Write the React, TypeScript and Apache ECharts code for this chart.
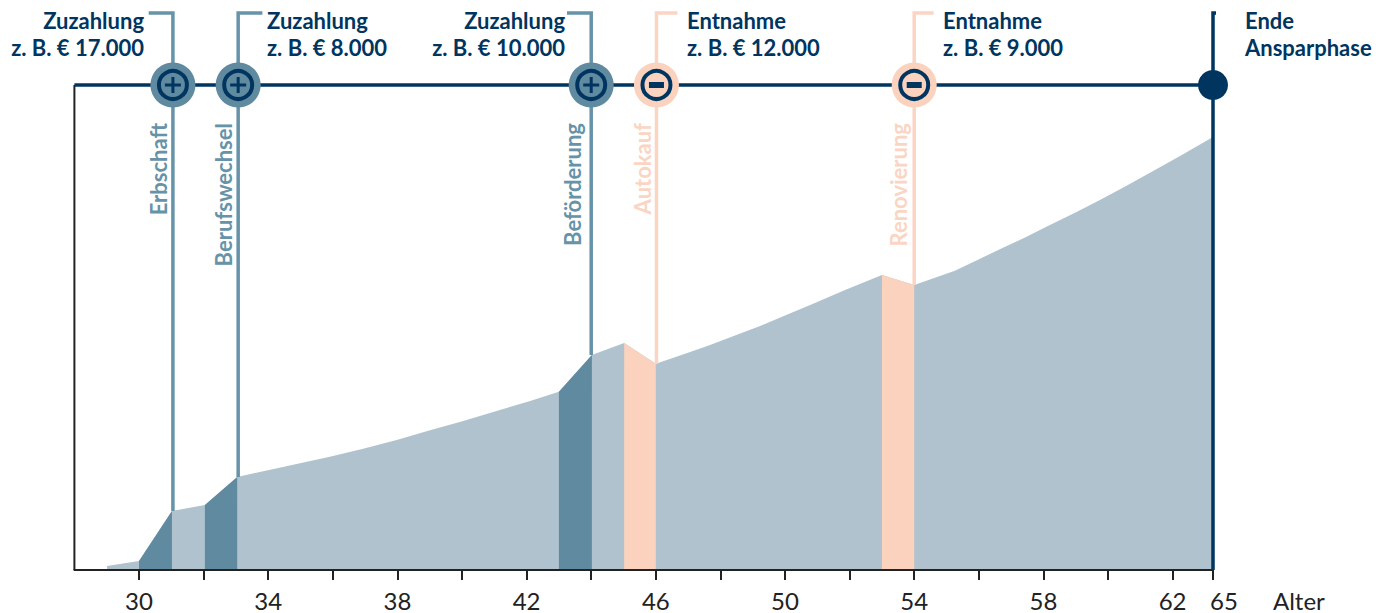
import React, { useEffect, useRef } from "react";
import * as echarts from "echarts";

const FONT = "Lato";
const NAVY = "#003560";
const BLUE = "#5F8AA0";
const BLUE_LINE = "#6693A8";
const BASE = "#AFC2CE";
const PEACH = "#FBD2BE";
const PEACH_LINE = "#FBD5C3";
const INK = "#222222";

// axis position of the age 65 tick (the axis is compressed after 62)
const END_POS = 63.25;
const tickPositions = [30, 32, 34, 36, 38, 40, 42, 44, 46, 48, 50, 52, 54, 56, 58, 60, 62, END_POS];
const labelPositions = [30, 34, 38, 42, 46, 50, 54, 58, 62, END_POS];

const balanceAges = [29.01, 30, 31.02, 32.04, 33.04, 33.85, 34.88, 35.91, 36.94, 37.98, 39.01, 40.04, 41.07, 42.11, 43, 44.02, 44.58, 45.02, 46, 46.84, 47.68, 48.45, 49.23, 50, 50.78, 51.86, 53, 54, 55.26, 56.65, 57.43, 58.2, 58.98, 59.75, 60.53, 61.3, 62.23, 63.25];
const balanceValues = [4, 9, 59, 65, 93, 98.8, 106, 113.3, 121.3, 130, 139.7, 149, 159, 169, 178.3, 215, 221.7, 227, 206.3, 215.5, 225, 234.5, 244, 254.5, 265, 280, 295, 285, 299.3, 320.7, 332.5, 345, 357.3, 370, 383.5, 397.3, 414, 433];

const depositSegments: number[][][] = [
  [[30, 9], [31.02, 59]],
  [[32.04, 65], [33.04, 93]],
  [[43, 178.3], [44.02, 215]],
];
const withdrawalSegments: number[][][] = [
  [[45.02, 227], [46, 206.3]],
  [[53, 295], [54, 285]],
];

const TIMELINE = 485;
const HOOK = 557;

const eventAges = [31.05, 33.07, 44, 46.02, 54];
const eventBase = [59, 93, 215, 206.3, 285];
const eventKinds = ["plus", "plus", "plus", "minus", "minus"];
const eventHook = [-0.75, 0.75, -0.75, 0.65, 0.6];
const eventNames = ["Erbschaft", "Berufswechsel", "Beförderung", "Autokauf", "Renovierung"];
const eventTitles = ["Zuzahlung", "Zuzahlung", "Zuzahlung", "Entnahme", "Entnahme"];
const eventAmounts = ["z. B. € 17.000", "z. B. € 8.000", "z. B. € 10.000", "z. B. € 12.000", "z. B. € 9.000"];
const headX = [144, 267, 565, 687, 943];
const nameX = [158, 223, 572, 642, 898];

const PLUS = "path://M6.5 0h3v6.5h6.5v3h-6.5v6.5h-3v-6.5h-6.5v-3h6.5z";

function lineSeries(data: number[][], color: string, width = 3.5, z = 5) {
  return {
    type: "line", data, showSymbol: false, symbol: "none", clip: false, silent: true, z,
    lineStyle: { color, width, cap: "butt", join: "miter" },
  };
}
function areaSeries(data: number[][], color: string, z: number) {
  return {
    type: "line", data, showSymbol: false, symbol: "none", silent: true, z,
    lineStyle: { width: 0 }, areaStyle: { color, opacity: 1 },
  };
}

export default function App() {
  const ref = useRef<HTMLDivElement>(null);
  useEffect(() => {
    const chart = echarts.init(ref.current!, undefined, { renderer: "svg" });
    const base = balanceAges.map((a, i) => [a, balanceValues[i]]);
    const blue = (i: number) => eventKinds[i] === "plus";
    const series: any[] = [
      areaSeries(base, BASE, 2),
      ...depositSegments.map((s) => areaSeries(s, BLUE, 3)),
      ...withdrawalSegments.map((s) => areaSeries(s, PEACH, 3)),
      lineSeries([[28, 0], [28, TIMELINE]], INK, 2, 4),
      lineSeries([[28, TIMELINE], [END_POS, TIMELINE]], NAVY, 3.5, 5),
      ...eventAges.map((a, i) =>
        lineSeries([[a, eventBase[i]], [a, HOOK], [a + eventHook[i], HOOK]], blue(i) ? BLUE_LINE : PEACH_LINE, 3.5, 5)
      ),
      lineSeries([[END_POS, 0], [END_POS, HOOK], [END_POS + 0.62, HOOK]], NAVY, 3.5, 6),
      {
        type: "scatter", silent: true, z: 7, clip: false, symbol: "circle", symbolSize: 45,
        data: eventAges.map((a, i) => ({ value: [a, TIMELINE], itemStyle: { color: blue(i) ? BLUE : PEACH, opacity: 1 } })),
      },
      {
        type: "scatter", silent: true, z: 8, clip: false, symbol: "circle", symbolSize: 28,
        itemStyle: { color: "rgba(0,0,0,0)", borderColor: NAVY, borderWidth: 4, opacity: 1 },
        data: eventAges.map((a) => [a, TIMELINE]),
      },
      {
        type: "scatter", silent: true, z: 9, clip: false, symbol: PLUS, symbolSize: 16,
        itemStyle: { color: NAVY, opacity: 1 },
        data: eventAges.filter((_, i) => blue(i)).map((a) => [a, TIMELINE]),
      },
      {
        type: "scatter", silent: true, z: 9, clip: false, symbol: "rect", symbolSize: [15, 6],
        itemStyle: { color: NAVY, opacity: 1 },
        data: eventAges.filter((_, i) => !blue(i)).map((a) => [a, TIMELINE]),
      },
      {
        type: "scatter", silent: true, z: 9, clip: false, symbol: "circle", symbolSize: 30,
        itemStyle: { color: NAVY, opacity: 1 },
        data: [[END_POS, TIMELINE]],
      },
    ];
    const head = (text: string, x: number, align: string) => ({
      type: "text", x, y: 34, z: 20,
      style: { text, fill: NAVY, font: `700 22px ${FONT}`, align, verticalAlign: "middle", lineHeight: 27 },
    });
    const graphic: any[] = [
      ...eventNames.map((n, i) => ({
        type: "text", x: nameX[i], y: 123, rotation: Math.PI / 2, z: 20,
        style: { text: n, fill: blue(i) ? BLUE_LINE : PEACH_LINE, font: `700 22px ${FONT}`, align: "right", verticalAlign: "middle" },
      })),
      ...eventTitles.map((t, i) => head(`${t}\n${eventAmounts[i]}`, headX[i], i === 0 || i === 2 ? "right" : "left")),
      head("Ende\nAnsparphase", 1245, "left"),
    ];
    chart.setOption({
      animation: false,
      backgroundColor: "#ffffff",
      textStyle: { fontFamily: FONT },
      grid: { left: 74.4, right: 1387 - 1213, top: 12, bottom: 613 - 570 },
      xAxis: {
        type: "value", min: 28, max: END_POS, z: 5, splitLine: { show: false },
        name: "Alter", nameLocation: "end", nameGap: 60,
        nameTextStyle: { color: INK, fontFamily: FONT, fontSize: 24, verticalAlign: "top", padding: [18, 0, 0, 0] },
        axisLine: { show: true, lineStyle: { color: INK, width: 2 } },
        axisTick: { show: true, length: 10, customValues: tickPositions, lineStyle: { color: INK, width: 2 } },
        axisLabel: {
          show: true, customValues: labelPositions, showMinLabel: true, showMaxLabel: true, hideOverlap: false,
          margin: 18, color: INK, fontFamily: FONT, fontSize: 24,
          formatter: (v: number) => (v === END_POS ? "{shift|65}" : String(v)),
          rich: { shift: { color: INK, fontFamily: FONT, fontSize: 24, padding: [0, 0, 0, 22] } },
        },
      },
      yAxis: { type: "value", min: 0, max: 558, show: false, splitLine: { show: false } },
      tooltip: { show: false },
      series,
      graphic,
    });
    return () => chart.dispose();
  }, []);
  return <div ref={ref} style={{ position: "absolute", left: 0, top: 0, width: 1387, height: 613 }} />;
}
